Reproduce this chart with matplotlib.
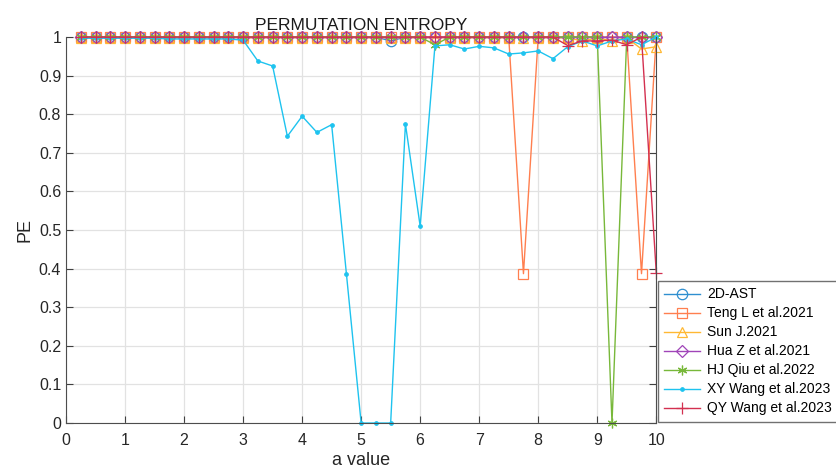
import numpy as np
import matplotlib
matplotlib.use("Agg")
import matplotlib.pyplot as plt

plt.rcParams['font.family'] = ['Liberation Sans', 'DejaVu Sans']

a = np.arange(1, 41) * 0.25

ast_2d = [1.0] * 40
ast_2d[21] = 0.99

teng = [1.0] * 40
teng[30] = 0.387
teng[38] = 0.387

sun = [0.998] * 40
sun[34] = 0.99
sun[36] = 0.99
sun[38] = 0.969
sun[39] = 0.975

hua = [1.0] * 40

qiu = [1.0] * 40
qiu[24] = 0.98
qiu[36] = 0.0

xy_wang = [0.997, 0.997, 0.997, 0.997, 0.997, 0.997, 0.995, 0.995, 0.995, 0.995,
           0.995, 0.992, 0.938, 0.925, 0.743, 0.795, 0.753, 0.773, 0.387, 0.0,
           0.0, 0.0, 0.775, 0.51, 0.977, 0.98, 0.969, 0.976, 0.972, 0.956,
           0.959, 0.964, 0.944, 0.975, 0.99, 0.977, 0.99, 0.995, 0.98, 1.0]

qy_wang = [1.0] * 40
qy_wang[33] = 0.978
qy_wang[34] = 0.99
qy_wang[35] = 0.99
qy_wang[36] = 0.992
qy_wang[37] = 0.98
qy_wang[39] = 0.39

series = [
    ("2D-AST", ast_2d, "#2f8fd0", "o", 7.5),
    ("Teng L et al.2021", teng, "#ff7f4f", "s", 6.5),
    ("Sun J.2021", sun, "#ffb833", "^", 7.5),
    ("Hua Z et al.2021", hua, "#a044b8", "D", 6),
    ("HJ Qiu et al.2022", qiu, "#78b83a", (6, 2, 0), 7),
    ("XY Wang et al.2023", xy_wang, "#1ec3ef", ".", 5),
    ("QY Wang et al.2023", qy_wang, "#d33050", "+", 8),
]

fig = plt.figure(figsize=(8.36, 4.69), dpi=100)
ax = fig.add_axes([0.079, 0.098, 0.706, 0.823])

for name, vals, col, mk, ms in series:
    face = col if mk == "." else "none"
    ax.plot(a, vals, color=col, lw=1.0, marker=mk, ms=ms, mfc=face,
            mec=col, mew=0.9, label=name, clip_on=False)

ax.set_xlim(0, 10)
ax.set_ylim(0, 1)
ax.set_xticks(range(0, 11))
ax.set_yticks(np.round(np.arange(0, 1.01, 0.1), 1))
ax.set_yticklabels(["0", "0.1", "0.2", "0.3", "0.4", "0.5", "0.6", "0.7",
                    "0.8", "0.9", "1"])
ax.grid(True, color="#e2e2e2", lw=0.9)
ax.set_axisbelow(True)
ax.tick_params(direction="in", length=5, labelsize=11.5, color="#404040",
               right=True, top=False, labelcolor="#262626")
ax.tick_params(axis="x", pad=7)
for side in ["left", "bottom", "right", "top"]:
    ax.spines[side].set_color("#4d4d4d")
ax.spines["top"].set_visible(False)

ax.set_title("PERMUTATION ENTROPY", fontsize=12.5, pad=5, color="#1a1a1a")
ax.set_xlabel("a value", fontsize=13, labelpad=3, color="#262626")
ax.set_ylabel("PE", fontsize=13, color="#262626")

leg = ax.legend(loc="lower left", bbox_to_anchor=(1.0, 0.0), fontsize=10,
                frameon=True, fancybox=False, edgecolor="#4d4d4d",
                handlelength=2.6, borderaxespad=0.1, labelspacing=0.36,
                handletextpad=0.5, borderpad=0.45)
leg.get_frame().set_linewidth(1.0)

fig.savefig("out.png", dpi=100)
